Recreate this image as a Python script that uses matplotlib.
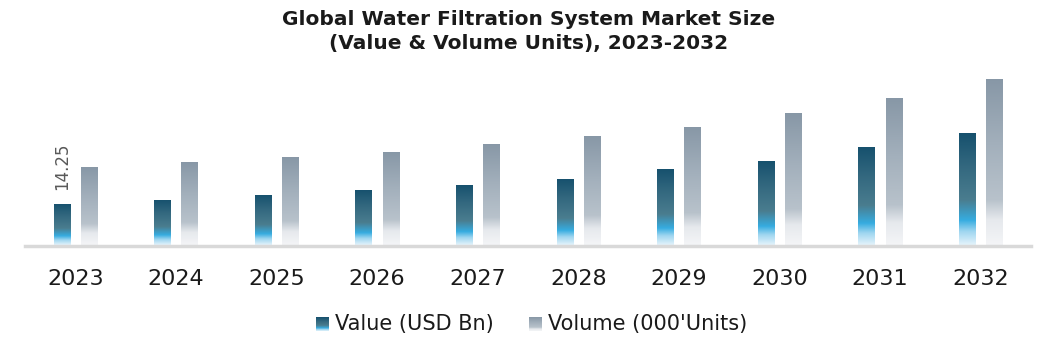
import numpy as np
import matplotlib
matplotlib.use("Agg")
import matplotlib.pyplot as plt
from matplotlib.colors import LinearSegmentedColormap

years = ["2023", "2024", "2025", "2026", "2027", "2028", "2029", "2030", "2031", "2032"]
value_usd_bn = [14.25, 15.6, 17.0, 18.7, 20.7, 22.7, 25.8, 28.8, 33.3, 38.3]
volume_units = [26.5, 28.2, 29.9, 31.9, 34.3, 37.1, 40.1, 44.9, 50.0, 56.5]
annotated_label = "14.25"

value_cmap = LinearSegmentedColormap.from_list(
    "val", [(0.0, "#e4f3fb"), (0.12, "#9fd6f0"), (0.22, "#36ace0"),
            (0.40, "#4a7d8f"), (0.70, "#33687f"), (1.0, "#15506d")])
volume_cmap = LinearSegmentedColormap.from_list(
    "vol", [(0.0, "#f4f5f7"), (0.15, "#e6e9ed"), (0.27, "#b8c2cb"),
            (0.6, "#a3b0bc"), (1.0, "#8797a6")])

fig = plt.figure(figsize=(10.57, 3.57), dpi=100)
ax = fig.add_axes([25 / 1057, (357 - 245.5) / 357, 1006 / 1057, 170 / 357])

x = np.arange(len(years))
w = 0.16
off = 0.135
bars_v = ax.bar(x - off, value_usd_bn, w, facecolor="none", edgecolor="none")
bars_u = ax.bar(x + off, volume_units, w, facecolor="none", edgecolor="none")

grad = np.linspace(0, 1, 256).reshape(-1, 1)
for bars, cmap in ((bars_v, value_cmap), (bars_u, volume_cmap)):
    for b in bars:
        x0, bw, h = b.get_x(), b.get_width(), b.get_height()
        im = ax.imshow(grad, cmap=cmap, origin="lower", aspect="auto",
                       extent=(x0, x0 + bw, 0, h), zorder=2)
        im.set_clip_path(b)

ax.set_xlim(-0.5, len(years) - 0.5)
ax.set_ylim(0, 57.7)
ax.set_xticks(x)
ax.set_xticklabels(years, fontsize=16, color="#1a1a1a")
ax.tick_params(axis="x", length=0, pad=17)
ax.set_yticks([])
for s in ["left", "right", "top"]:
    ax.spines[s].set_visible(False)
ax.spines["bottom"].set_color("#d9d9d9")
ax.spines["bottom"].set_linewidth(2.5)

ax.text(x[0] - off, value_usd_bn[0] + 4.5, annotated_label, rotation=90,
        ha="center", va="bottom", fontsize=12, color="#595959")

fig.text(0.5, 0.972, "Global Water Filtration System Market Size\n(Value & Volume Units), 2023-2032",
         ha="center", va="top", fontsize=14.5, fontweight="bold", color="#1a1a1a",
         linespacing=1.35)

# legend with gradient swatches
def swatch(xpix, cmap):
    sax = fig.add_axes([xpix / 1057, (357 - 331) / 357, 13 / 1057, 14 / 357])
    sax.imshow(grad, cmap=cmap, origin="lower", aspect="auto")
    sax.axis("off")

swatch(316, value_cmap)
fig.text(335 / 1057, (357 - 324) / 357, "Value (USD Bn)", fontsize=15,
         va="center", ha="left", color="#1a1a1a")
swatch(529, volume_cmap)
fig.text(548 / 1057, (357 - 324) / 357, "Volume (000'Units)", fontsize=15,
         va="center", ha="left", color="#1a1a1a")

fig.savefig("out.png", dpi=100)
